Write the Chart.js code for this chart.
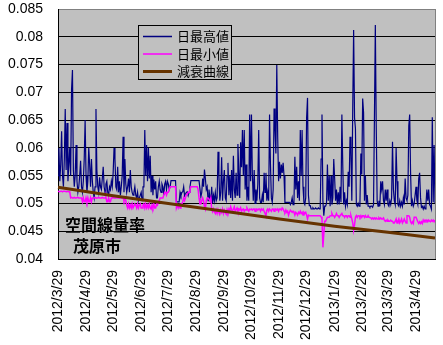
<!DOCTYPE html>
<html>
<head>
<meta charset="utf-8">
<script src="https://cdn.jsdelivr.net/npm/chart.js@4/dist/chart.umd.min.js"></script>
<style>
  html, body { margin: 0; padding: 0; background: #fff; }
  canvas { display: block; }
</style>
</head>
<body>
<canvas id="chart" width="443" height="345"></canvas>
<script>
// 茂原市 空間線量率 (µSv/h) 日別 2012/3/29 ～ 2013/5/20
const startDate = new Date(2012, 2, 29);

const maxValues = [
  0.055, 0.060, 0.054, 0.057, 0.063, 0.055, 0.053, 0.058, 0.067, 0.056,
  0.0645, 0.054, 0.057, 0.060, 0.055, 0.0705, 0.074, 0.056, 0.053, 0.055,
  0.0605, 0.054, 0.052, 0.053, 0.055, 0.0577, 0.053, 0.052, 0.054, 0.058,
  0.065, 0.055, 0.052, 0.054, 0.060, 0.057, 0.053, 0.058, 0.054, 0.052,
  0.051, 0.053, 0.067, 0.056, 0.053, 0.052, 0.0547, 0.053, 0.0525, 0.0545,
  0.0566, 0.053, 0.052, 0.0535, 0.054, 0.052, 0.0515, 0.053, 0.0525, 0.054,
  0.053, 0.0555, 0.060, 0.058, 0.053, 0.0525, 0.0566, 0.052, 0.054, 0.0515,
  0.053, 0.055, 0.062, 0.052, 0.058, 0.0535, 0.052, 0.053, 0.0545, 0.052,
  0.056, 0.053, 0.052, 0.0515, 0.052, 0.053, 0.0515, 0.051, 0.052, 0.0505,
  0.051, 0.0515, 0.052, 0.0505, 0.053, 0.053, 0.0632, 0.055, 0.0605, 0.054,
  0.060, 0.0545, 0.0586, 0.052, 0.055, 0.0515, 0.0543, 0.0525, 0.054, 0.051,
  0.051, 0.053, 0.054, 0.0525, 0.052, 0.0535, 0.053, 0.0515, 0.0535, 0.054,
  0.0525, 0.054, 0.0535, 0.0525, 0.053, 0.0541, 0.0541, 0.0541, 0.0541, 0.0541,
  0.0541, 0.0503, 0.0503, 0.0503, 0.0503, 0.052, 0.0514, 0.052, 0.0521, 0.053,
  0.0514, 0.0517, 0.052, 0.0521, 0.0514, 0.052, 0.053, 0.0541, 0.0541, 0.0541,
  0.0541, 0.0541, 0.0541, 0.0541, 0.0541, 0.0541, 0.0541, 0.0541, 0.0512, 0.052,
  0.0545, 0.053, 0.0561, 0.0545, 0.0525, 0.053, 0.0505, 0.0525, 0.051, 0.0505,
  0.053, 0.050, 0.0515, 0.0505, 0.052, 0.0505, 0.051, 0.0593, 0.055, 0.0505,
  0.052, 0.0583, 0.0505, 0.054, 0.056, 0.051, 0.0505, 0.055, 0.0573, 0.0515,
  0.055, 0.051, 0.056, 0.0505, 0.0586, 0.0525, 0.051, 0.0555, 0.0515, 0.0607,
  0.0555, 0.051, 0.061, 0.0565, 0.0632, 0.055, 0.0632, 0.0525, 0.057, 0.0505,
  0.053, 0.0505, 0.066, 0.054, 0.066, 0.055, 0.0505, 0.056, 0.050, 0.0525,
  0.0505, 0.0535, 0.0632, 0.051, 0.0502, 0.0502, 0.0515, 0.0502, 0.0555, 0.052,
  0.0555, 0.0505, 0.052, 0.0505, 0.066, 0.057, 0.051, 0.0502, 0.0525, 0.0671,
  0.0635, 0.059, 0.0749, 0.062, 0.054, 0.0575, 0.0545, 0.057, 0.0555, 0.0573,
  0.055, 0.0502, 0.0502, 0.0502, 0.0502, 0.0502, 0.0502, 0.0498, 0.0502, 0.051,
  0.0498, 0.0502, 0.0584, 0.0525, 0.0566, 0.051, 0.054, 0.0505, 0.0632, 0.055,
  0.0632, 0.053, 0.0502, 0.0498, 0.051, 0.0655, 0.069, 0.0515, 0.0496, 0.0496,
  0.049, 0.049, 0.0492, 0.049, 0.049, 0.0492, 0.049, 0.049, 0.0492, 0.049,
  0.049, 0.058, 0.066, 0.0505, 0.0478, 0.0495, 0.0495, 0.050, 0.057, 0.0505,
  0.055, 0.0495, 0.055, 0.0498, 0.051, 0.058, 0.0545, 0.0505, 0.0525, 0.0498,
  0.052, 0.0498, 0.053, 0.0502, 0.066, 0.0566, 0.0498, 0.052, 0.0495, 0.0505,
  0.0498, 0.0557, 0.053, 0.062, 0.0592, 0.0505, 0.0671, 0.0812, 0.0654, 0.0635,
  0.0498, 0.0495, 0.050, 0.0495, 0.0502, 0.059, 0.0552, 0.0689, 0.0663, 0.0505,
  0.055, 0.0498, 0.0515, 0.0495, 0.0495, 0.0493, 0.0495, 0.0495, 0.0493, 0.0498,
  0.0654, 0.0821, 0.064, 0.0505, 0.0495, 0.0505, 0.0495, 0.054, 0.0525, 0.054,
  0.0505, 0.0498, 0.0525, 0.0505, 0.0525, 0.0498, 0.0495, 0.0505, 0.0498, 0.051,
  0.0611, 0.0525, 0.0505, 0.0498, 0.060, 0.054, 0.0498, 0.0495, 0.0505, 0.0495,
  0.0502, 0.0495, 0.051, 0.0498, 0.0545, 0.051, 0.0505, 0.0515, 0.064, 0.066,
  0.0555, 0.0495, 0.0505, 0.0495, 0.050, 0.0515, 0.053, 0.0505, 0.0498, 0.0545,
  0.0555, 0.051, 0.0493, 0.0495, 0.049, 0.0495, 0.049, 0.0498, 0.0525, 0.0505,
  0.0525, 0.0498, 0.0495, 0.049, 0.0655, 0.0502, 0.0605, 0.050
];

const minValues = [
  0.0522, 0.0522, 0.0521, 0.0522, 0.0522, 0.0521, 0.0522, 0.0522, 0.0522, 0.0521,
  0.0522, 0.0522, 0.0521, 0.0521, 0.051, 0.0511, 0.051, 0.051, 0.0511, 0.051,
  0.051, 0.051, 0.0511, 0.051, 0.051, 0.051, 0.051, 0.0503, 0.051, 0.0503,
  0.0503, 0.051, 0.0503, 0.051, 0.0503, 0.0503, 0.051, 0.0503, 0.051, 0.051,
  0.051, 0.0511, 0.051, 0.051, 0.051, 0.0511, 0.051, 0.051, 0.051, 0.0511,
  0.051, 0.051, 0.051, 0.0511, 0.0503, 0.0503, 0.051, 0.0503, 0.0503, 0.051,
  0.051, 0.0511, 0.051, 0.051, 0.051, 0.0511, 0.051, 0.051, 0.051, 0.0511,
  0.051, 0.051, 0.051, 0.0505, 0.051, 0.0505, 0.0497, 0.0492, 0.0499, 0.0492,
  0.0497, 0.0492, 0.0499, 0.0492, 0.0492, 0.0499, 0.0497, 0.0492, 0.0499, 0.0492,
  0.0497, 0.0499, 0.0492, 0.0492, 0.0497, 0.0499, 0.0492, 0.0499, 0.0492, 0.0497,
  0.0492, 0.0499, 0.0492, 0.049, 0.0497, 0.0492, 0.0499, 0.0492, 0.0492, 0.0499,
  0.0497, 0.0503, 0.0505, 0.051, 0.051, 0.051, 0.051, 0.0515, 0.052, 0.052,
  0.0515, 0.052, 0.052, 0.0525, 0.053, 0.053, 0.053, 0.053, 0.053, 0.053,
  0.053, 0.0492, 0.0497, 0.0492, 0.0497, 0.0492, 0.0499, 0.0499, 0.0503, 0.051,
  0.0505, 0.051, 0.0516, 0.0516, 0.052, 0.052, 0.0525, 0.053, 0.053, 0.053,
  0.053, 0.053, 0.053, 0.053, 0.053, 0.0525, 0.051, 0.0499, 0.0499, 0.0505,
  0.051, 0.0505, 0.0495, 0.049, 0.0505, 0.051, 0.051, 0.051, 0.0505, 0.051,
  0.0489, 0.0485, 0.049, 0.0485, 0.0482, 0.0488, 0.0482, 0.0489, 0.0484, 0.0481,
  0.0488, 0.0484, 0.049, 0.0482, 0.0488, 0.0484, 0.0481, 0.0489, 0.0484, 0.049,
  0.0486, 0.0494, 0.0489, 0.0486, 0.049, 0.0494, 0.0486, 0.0489, 0.0492, 0.0486,
  0.049, 0.0488, 0.0492, 0.0486, 0.0489, 0.049, 0.0486, 0.0489, 0.0488, 0.0492,
  0.0489, 0.0486, 0.049, 0.0489, 0.049, 0.0488, 0.049, 0.049, 0.0486, 0.049,
  0.049, 0.0488, 0.049, 0.049, 0.0486, 0.049, 0.0488, 0.049, 0.0486, 0.0482,
  0.0478, 0.0488, 0.049, 0.0486, 0.049, 0.0488, 0.0486, 0.049, 0.049, 0.0486,
  0.049, 0.049, 0.0488, 0.049, 0.0486, 0.049, 0.049, 0.0488, 0.0492, 0.049,
  0.0486, 0.0484, 0.0488, 0.0484, 0.0486, 0.0479, 0.0484, 0.0488, 0.0486, 0.0484,
  0.0486, 0.0484, 0.0479, 0.0484, 0.0482, 0.0479, 0.0484, 0.0482, 0.0486, 0.0482,
  0.0484, 0.0479, 0.0484, 0.0482, 0.0484, 0.0479, 0.0472, 0.0479, 0.0478, 0.0478,
  0.0478, 0.0478, 0.0478, 0.0478, 0.0478, 0.0478, 0.0478, 0.0478, 0.0478, 0.0478,
  0.0478, 0.0476, 0.0472, 0.0421, 0.0445, 0.0468, 0.0468, 0.0472, 0.0475, 0.0475,
  0.0475, 0.0478, 0.0478, 0.0482, 0.0478, 0.0478, 0.0475, 0.0478, 0.0482, 0.0478,
  0.0478, 0.0475, 0.0478, 0.0478, 0.0482, 0.0478, 0.0478, 0.0475, 0.0478, 0.0478,
  0.0475, 0.0478, 0.0478, 0.0475, 0.0478, 0.0472, 0.0465, 0.0452, 0.0462, 0.0475,
  0.0478, 0.0475, 0.0478, 0.0478, 0.0475, 0.0478, 0.0475, 0.0478, 0.0478, 0.0475,
  0.0478, 0.0475, 0.0475, 0.0478, 0.0475, 0.0475, 0.0474, 0.0472, 0.0474, 0.0472,
  0.0474, 0.0472, 0.0474, 0.0472, 0.0472, 0.0474, 0.0472, 0.0474, 0.0472, 0.0472,
  0.0474, 0.047, 0.0468, 0.047, 0.0468, 0.047, 0.0468, 0.0468, 0.047, 0.0468,
  0.0468, 0.0465, 0.0465, 0.0468, 0.0472, 0.0465, 0.0468, 0.0472, 0.0465, 0.0468,
  0.0472, 0.0465, 0.0468, 0.0472, 0.0468, 0.0465, 0.0478, 0.0478, 0.0478, 0.0475,
  0.0467, 0.0464, 0.0467, 0.0464, 0.0475, 0.0475, 0.0475, 0.0475, 0.0467, 0.0464,
  0.0467, 0.0464, 0.0467, 0.0464, 0.047, 0.0467, 0.047, 0.0468, 0.047, 0.0467,
  0.047, 0.0468, 0.0467, 0.047, 0.0468, 0.047, 0.0467, 0.047
];

// 減衰曲線 (計算値を月ごとに抜き出したもの)
const decayDates = ['2012/3/29', '2012/5/29', '2012/7/29', '2012/9/29', '2012/11/29', '2013/1/29', '2013/3/29', '2013/5/20'];
const decayValues = [0.0529, 0.0514, 0.0500, 0.0486, 0.0472, 0.0459, 0.0448, 0.0438];

const tickLabels = [
  '2012/3/29', '2012/4/29', '2012/5/29', '2012/6/29', '2012/7/29', '2012/8/29', '2012/9/29',
  '2012/10/29', '2012/11/29', '2012/12/29', '2013/1/29', '2013/2/28', '2013/3/29', '2013/4/29'
];

const seriesNames = ['日最高値', '日最小値', '減衰曲線'];
const noteLines = ['空間線量率', '茂原市'];

// 日付ラベル (1日1カテゴリ)
const days = maxValues.map((_, i) => {
  const d = new Date(startDate.getFullYear(), startDate.getMonth(), startDate.getDate() + i);
  return d.getFullYear() + '/' + (d.getMonth() + 1) + '/' + d.getDate();
});

const latin = "'Liberation Sans', Arial, sans-serif";
const cjk = "'Noto Sans CJK JP', sans-serif";

// 背景・枠・凡例・注記
const plotFrame = {
  id: 'plotFrame',
  beforeDraw(chart) {
    const { ctx, chartArea: a } = chart;
    ctx.save();
    ctx.fillStyle = '#ffffff';
    ctx.fillRect(0, 0, chart.width, chart.height);
    ctx.fillStyle = '#c0c0c0';
    ctx.fillRect(a.left, a.top, a.right - a.left, a.bottom - a.top);
    ctx.restore();
  },
  afterDraw(chart) {
    const { ctx, chartArea: a } = chart;
    ctx.save();

    // 右側の枠線
    ctx.strokeStyle = '#808080';
    ctx.lineWidth = 1;
    ctx.beginPath();
    ctx.moveTo(Math.round(a.right) + 0.5, a.top);
    ctx.lineTo(Math.round(a.right) + 0.5, a.bottom);
    ctx.stroke();

    // 凡例
    const box = { x: 138.5, y: 25.5, w: 93, h: 54 };
    ctx.fillStyle = '#c0c0c0';
    ctx.fillRect(box.x, box.y, box.w, box.h);
    ctx.strokeStyle = '#000';
    ctx.strokeRect(box.x, box.y, box.w, box.h);
    ctx.font = '13px ' + cjk;
    ctx.textBaseline = 'middle';
    ctx.textAlign = 'left';
    chart.data.datasets.forEach((ds, i) => {
      const y = 36.5 + i * 17.5;
      ctx.strokeStyle = ds.borderColor;
      ctx.lineWidth = Math.max(ds.borderWidth, 1.5);
      ctx.beginPath();
      ctx.moveTo(143, y);
      ctx.lineTo(172, y);
      ctx.stroke();
      ctx.fillStyle = '#000';
      ctx.fillText(ds.label, 177, y);
    });

    // 注記
    ctx.font = 'bold 16px ' + cjk;
    ctx.fillStyle = '#000';
    ctx.fillText(noteLines[0], 65, 225);
    ctx.fillText(noteLines[1], 73, 246);
    ctx.restore();
  }
};

new Chart(document.getElementById('chart'), {
  type: 'line',
  data: {
    labels: days,
    datasets: [
      {
        label: seriesNames[0],
        data: maxValues,
        borderColor: '#000080',
        borderWidth: 1.2,
        pointRadius: 0,
        tension: 0,
        order: 3
      },
      {
        label: seriesNames[1],
        data: minValues,
        borderColor: '#ff00ff',
        borderWidth: 1.5,
        pointRadius: 0,
        tension: 0,
        order: 2
      },
      {
        label: seriesNames[2],
        data: decayDates.map((d, i) => ({ x: d, y: decayValues[i] })),
        borderColor: '#663300',
        borderWidth: 3,
        pointRadius: 0,
        tension: 0,
        order: 1
      }
    ]
  },
  options: {
    responsive: false,
    animation: false,
    layout: { padding: { top: 9, right: 8, left: 0, bottom: 0 } },
    plugins: {
      legend: { display: false },
      tooltip: { enabled: false }
    },
    scales: {
      x: {
        offset: false,
        afterFit: s => {
          s.height = 86;
          s.paddingLeft = 0;
          s.paddingRight = 0;
        },
        grid: { display: false, drawTicks: false },
        border: { display: true, color: '#000', width: 1 },
        ticks: {
          autoSkip: false,
          minRotation: 90,
          maxRotation: 90,
          padding: 11,
          color: '#000',
          font: { family: latin, size: 14 },
          callback(value) {
            const label = this.getLabelForValue(value);
            return tickLabels.includes(label) ? label : null;
          }
        }
      },
      y: {
        min: 0.04,
        max: 0.085,
        afterFit: s => {
          s.width = 58;
          s.paddingTop = 0;
          s.paddingBottom = 0;
        },
        grid: {
          drawTicks: false,
          lineWidth: 1,
          color: c => (c.tick && c.tick.value > 0.0849) ? '#808080' : '#000'
        },
        border: { display: true, color: '#000', width: 1 },
        ticks: {
          stepSize: 0.005,
          padding: 15,
          color: '#000',
          font: { family: latin, size: 14 },
          callback: v => String(+v.toFixed(3))
        }
      }
    }
  },
  plugins: [plotFrame]
});
</script>
</body>
</html>
